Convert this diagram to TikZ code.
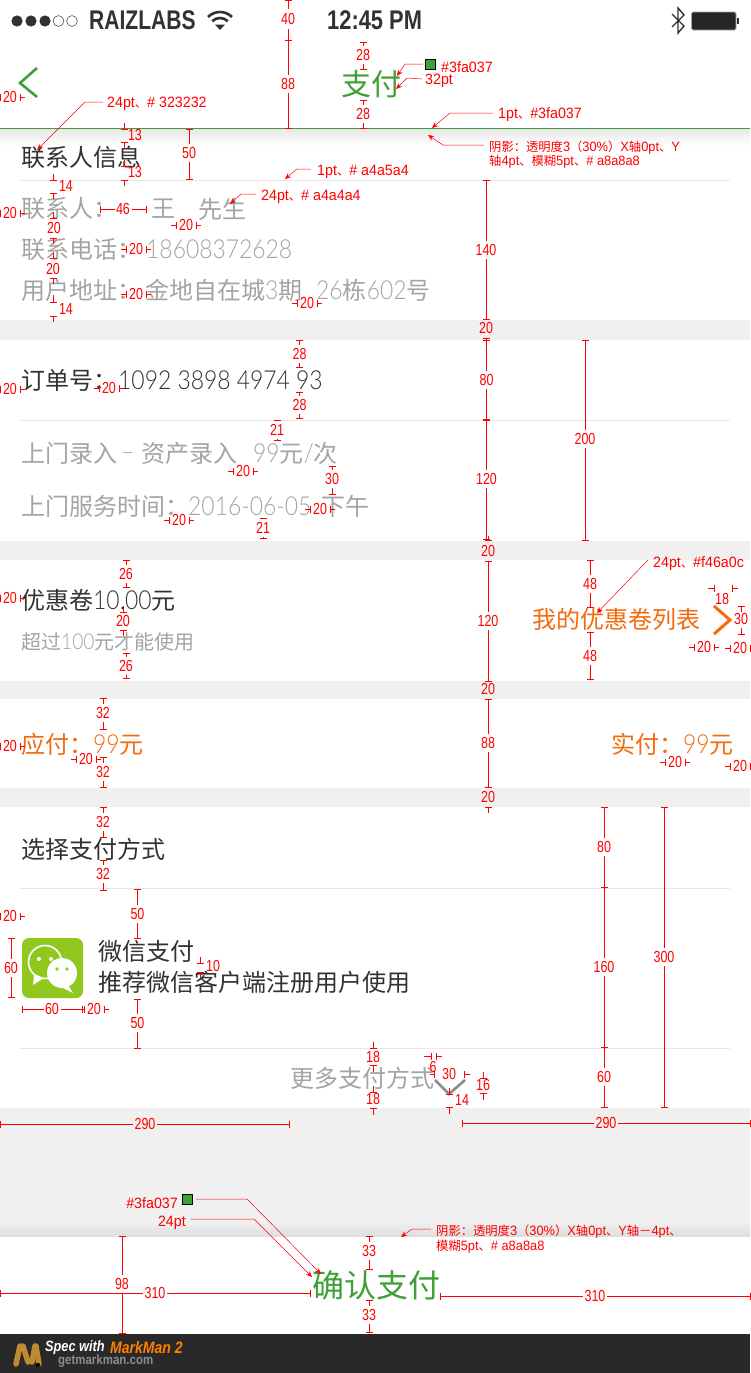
\documentclass[tikz,border=0pt]{standalone}
\usepackage{fontspec}
\usetikzlibrary{arrows.meta}
\setmainfont{Noto Sans CJK SC}
\IfFontExistsTF{Lato Light}{\newfontfamily\dgf{Lato Light}[Scale=1.09,FakeStretch=0.875]}{\newfontfamily\dgf{Carlito}[Scale=1.09]}
\newfontfamily\rdf{Liberation Sans}[FakeStretch=0.78]
\newfontfamily\anf{Liberation Sans}[FakeStretch=0.95]
\newfontfamily\cjf{Noto Sans CJK SC}
\newfontfamily\stf{Liberation Sans Bold}[FakeStretch=0.78]
\newfontfamily\tmf{Liberation Sans Bold}[FakeStretch=0.81]
\newfontfamily\ftf{Liberation Sans}[FakeStretch=0.85]
\definecolor{gr}{HTML}{3FA037}
\definecolor{ink}{HTML}{323232}
\definecolor{mute}{HTML}{A4A4A4}
\definecolor{org}{HTML}{F46A0C}
\definecolor{band}{HTML}{F0F0F0}
\definecolor{sepc}{HTML}{E8E8E8}
\definecolor{wx}{HTML}{90C81E}
\definecolor{rd}{HTML}{FF0000}
\definecolor{logoc}{HTML}{C08A30}
\newcommand\pxf[1]{\fontsize{#1}{#1}\selectfont}
\newcommand\cj[1]{{\cjf\pxf{12.3}#1}}
\newcounter{lbc}
\newcommand\mLb[3]{\stepcounter{lbc}\node[dimlabel] (lb\arabic{lbc}) at (#1,#2) {#3};}
\newcommand\mVs[3]{\draw[dimline] (#1-3.5,#2) -- (#1+3.5,#2) (#1,#2) -- (#1,#3);}
\newcommand\mHs[3]{\draw[dimline] (#1,#2-3.5) -- (#1,#2+3.5) (#1,#2) -- (#3,#2);}
\newcommand\mVd[5]{\mVs{#1}{#2}{#4-9}\mVs{#1}{#3}{#4+9}\mLb{#1}{#4}{#5}}
\newcommand\mHd[3]{\mHs{#1-10}{#2}{#1-15}\mHs{#1+10}{#2}{#1+15}\mLb{#1}{#2}{#3}}
\newcommand\mHl[5]{\mHs{#1}{#4}{#3-12}\mHs{#2}{#4}{#3+12}\mLb{#3}{#4}{#5}}
\newcommand\mHm[5]{\mHs{#1}{#4}{#3-8.5}\mHs{#2}{#4}{#3+8.5}\mLb{#3}{#4}{#5}}
\tikzset{
  x=1pt,y=-1pt,
  dimline/.style={rd,line width=1pt},
  dimlabel/.style={text=rd,inner sep=0pt,font=\rdf\pxf{16}},
  ann/.style={text=rd,inner sep=0pt,anchor=west,yshift=-2pt,font=\anf\pxf{15}},
  annsm/.style={ann,font=\anf\pxf{13.5}},
  leader/.style={rd,line width=0.5pt,-{Stealth[length=6pt,width=5pt]}},
  txt/.style={inner sep=0pt,anchor=west,font=\pxf{24}},
  ttl/.style={txt,text=ink},
  mut/.style={txt,text=mute},
  orn/.style={txt,text=org},
  sep/.style={sepc,line width=0.8pt},
  swatch/.style={draw=black,fill=gr,line width=0.8pt,minimum width=10pt,minimum height=10pt,inner sep=0pt},
  chev/.style={line width=2.6pt,line join=miter},
}
\begin{document}
\begin{tikzpicture}
\useasboundingbox (0,0) rectangle (750,1373);
\fill[white] (0,0) rectangle (750,1373);
% bands
\fill[band] (0,320) rectangle (750,340);
\fill[band] (0,541) rectangle (750,560);
\fill[band] (0,681) rectangle (750,699);
\fill[band] (0,788) rectangle (750,807);
\fill[band] (0,1108) rectangle (750,1236);
\shade[top color=band,bottom color=black!13] (0,1222) rectangle (750,1236);
\shade[top color=black!9,bottom color=white] (0,129) rectangle (750,146);
\fill[black!84] (0,1334) rectangle (750,1373);
% separators
\draw[gr,line width=1pt] (0,128) -- (750,128);
\draw[sep] (20,180) -- (730,180);
\draw[sep] (20,420) -- (730,420);
\draw[sep] (20,888) -- (730,888);
\draw[sep] (20,1048) -- (730,1048);
% status bar
\foreach \cx in {17,31,45}{\fill[ink] (\cx,21) circle (5.6);}
\foreach \cx in {58.5,72}{\draw[ink,line width=0.5pt] (\cx,21) circle (5.4);}
\node[inner sep=0pt,anchor=west,text=ink,font=\stf\pxf{27}] (carrier) at (89,20) {RAIZLABS};
\node[inner sep=0pt,anchor=west,text=ink,font=\tmf\pxf{27}] (clock) at (327,20) {12:45 PM};
\begin{scope}[ink,line width=2.6pt]
\draw (220,29) ++(225:17) arc[start angle=225,end angle=315,radius=17];
\draw (220,29) ++(225:11) arc[start angle=225,end angle=315,radius=11];
\end{scope}
\fill[ink] (220,30) -- (215,24.5) -- (225,24.5) -- cycle;
\draw[ink,line width=1.4pt,line join=miter] (672,14) -- (684,26) -- (678,33) -- (678,8) -- (684,15) -- (672,27);
\draw[black!35,line width=0.8pt,fill=black!85,rounded corners=1.5pt] (691.5,12) rectangle (736,30);
\fill[ink] (737,18) rectangle (739,24);
% nav
\draw[gr,chev] (37,68) -- (20,83) -- (37,97);
\node[inner sep=0pt,text=gr,font=\pxf{30}] (title) at (371,84) {支付};
% section 1
\node[ttl] (t1) at (21,157) {联系人信息};
\node[mut] (t2) at (21,209) {联系人：};
\node[mut] (t3) at (151,209) {王};
\node[mut] (t4) at (198,209) {先生};
\node[mut] (t5) at (21,249) {联系电话：};
\node[mut] (t6) at (146,249) {\dgf 18608372628};
\node[mut] (t7) at (21,290) {用户地址：};
\node[mut] (t8) at (145,290) {金地自在城{\dgf 3}期};
\node[mut] (t9) at (316,290) {{\dgf 26}栋{\dgf 602}号};
% section 2
\node[ttl] (t10) at (21,380) {订单号：};
\node[ttl] (t11) at (118,380) {\dgf 1092 3898 4974 93};
\node[mut] (t12) at (21,453) {上门录入};
\node[mut] (t13) at (121,456) {\dgf –};
\node[mut] (t14) at (141,453) {资产录入};
\node[mut] (t15) at (253,453) {{\dgf 99}元{\dgf /}次};
\node[mut] (t16) at (21,506) {上门服务时间：};
\node[mut] (t17) at (188,506) {\dgf 2016-06-05};
\node[mut] (t18) at (321,506) {下午};
% section 3
\node[ttl] (t19) at (21,600) {优惠卷{\dgf 10.00}元};
\node[mut,font=\pxf{20}] (t20) at (21,642) {超过{\dgf 100}元才能使用};
\node[orn] (t21) at (532,619) {我的优惠卷列表};
\draw[org,chev,line width=3pt] (714,606) -- (730,620) -- (714,634);
% section 4
\node[orn] (t22) at (21,744) {应付：{\dgf 99}元};
\node[orn] (t23) at (611,744) {实付：{\dgf 99}元};
% section 5
\node[ttl] (t24) at (21,849) {选择支付方式};
\fill[wx,rounded corners=7pt] (22,938) rectangle (83,998);
\draw[white,fill=wx,line width=1.6pt] (45,962) circle (16.5);
\fill[white] (34,974) -- (33,985) -- (44,978) -- cycle;
\fill[white] (39,959) circle (2) (51,959) circle (2);
\fill[white] (62,973) circle (15);
\fill[white] (68,985) -- (73,993) -- (59,986) -- cycle;
\fill[wx] (57,969) circle (1.8) (67,969) circle (1.8);
\node[ttl] (t25) at (98,951) {微信支付};
\node[ttl] (t26) at (98,982) {推荐微信客户端注册用户使用};
\node[mut] (t27) at (290,1078) {更多支付方式};
\draw[black!45,chev] (435,1080) -- (449,1094) -- (465,1080);
\node[inner sep=0pt,anchor=west,text=gr,font=\pxf{32}] (t28) at (312,1285) {确认支付};
% footer
\begin{scope}[line width=5.5pt,line cap=round,color=logoc]
\draw (16,1364) -- (20,1346);
\draw (23,1346) -- (28,1362);
\draw (32,1362) -- (35,1346);
\draw (36,1346) -- (39,1364);
\end{scope}
\fill[black] (38,1365) circle (2.2);
\node[inner sep=0pt,anchor=west,text=white,font=\ftf\bfseries\itshape\pxf{15}] (f1) at (45,1348) {Spec with};
\node[inner sep=0pt,anchor=west,text=orange,font=\ftf\bfseries\itshape\pxf{16.5}] (f2) at (110,1348) {MarkMan 2};
\node[inner sep=0pt,anchor=west,text=black!45,font=\ftf\bfseries\pxf{13.5}] (f3) at (58,1361) {getmarkman.com};
% dimensions: top
\mVs{288}{0}{9}\mVs{288}{40}{29}\mLb{288}{19}{40}
\mVd{288}{40}{128}{84}{88}
\mVd{363}{42}{69}{55}{28}
\mVd{363}{100}{128}{114}{28}
\mHd{10}{97}{20}
\mVs{124}{129}{123}\mLb{135}{135}{13}\mVs{124}{142}{149}
\mVs{124}{166}{160}\mLb{135}{172}{13}\mVs{124}{180}{186}
\mVd{189}{129}{179}{153}{50}
\mVs{53}{180}{174}\mLb{66}{186}{14}\mVs{53}{193}{199}
\mVs{53}{218}{212}\mLb{54}{228}{20}\mVs{53}{238}{244}
\mVs{53}{258}{252}\mLb{53}{269}{20}\mVs{53}{278}{284}
\mVs{53}{302}{295}\mLb{66}{309}{14}\mVs{53}{316}{322}
\mHd{10}{213}{20}
\mHm{100}{146}{123}{209}{46}
\mHd{186}{225}{20}
\mHd{136}{249}{20}
\mHd{136}{294}{20}
\mHd{307}{303}{20}
\mVd{486}{180}{319}{250}{140}
\mLb{486}{328}{20}\mVs{486}{338}{342}
% section 2
\mVd{486.5}{340}{419}{380}{80}
\mVd{486.5}{420}{539}{479}{120}
\mVd{585}{340}{540}{439}{200}
\mHd{10}{389}{20}
\mHd{109}{388}{20}
\mVd{299.5}{340}{367}{354}{28}
\mVd{299.5}{392}{418}{405}{28}
\mVd{277}{420}{440}{430}{21}
\mVd{332}{466}{494}{479}{30}
\mVd{263}{518}{538}{528}{21}
\mHd{243}{471}{20}
\mHd{179}{520}{20}
\mHd{320}{509}{20}
\mLb{488}{551}{20}\mVs{488}{540}{536}
% section 3
\mHd{10}{598}{20}
\mVd{126}{560}{587}{574}{26}
\mVs{123}{612}{606}\mLb{123}{621}{20}\mVs{123}{630}{636}
\mVd{126}{653}{678}{666}{26}
\mVd{488}{561}{681}{621}{120}
\mVd{590}{560}{607}{584}{48}
\mVd{590}{632}{679}{656}{48}
\mVs{741}{606}{612}\mLb{741}{619}{30}\mVs{741}{634}{628}
\mHs{714}{588}{708}\mHs{732}{588}{738}\mLb{722}{599}{18}
\mHd{704}{647}{20}
\mHd{740}{648}{20}
\mLb{488}{689}{20}
% section 4
\mVd{103}{698}{729}{713}{32}
\mVd{103}{757}{787}{772}{32}
\mVd{488}{699}{787}{743}{88}
\mHd{10}{746}{20}
\mHd{86}{759}{20}
\mHd{675}{762}{20}
\mHd{740}{766}{20}
\mLb{488}{797}{20}\mVs{488}{807}{813}
% section 5
\mVd{103}{807}{837}{822}{32}
\mVd{103}{860}{890}{874}{32}
\mVd{604}{807}{887}{847}{80}
\mVd{604}{887}{1047}{967}{160}
\mVd{604}{1047}{1107}{1077}{60}
\mVd{664}{807}{1107}{957}{300}
\mVd{137.5}{889}{938}{914}{50}
\mVd{137.5}{999}{1048}{1023}{50}
\mVd{11}{938}{997}{968}{60}
\mHd{10}{916}{20}
\mHm{22}{82}{52}{1009}{60}
\mHs{84}{1009}{82}\mHs{104}{1009}{109}\mLb{94}{1009}{20}
\mVs{200}{963}{957}\mLb{213}{966}{10}\mVs{200}{972}{978}
\mVs{373}{1048}{1042}\mLb{373}{1057}{18}\mVs{373}{1065}{1072}
\mVs{373}{1092}{1086}\mLb{373}{1099}{18}\mVs{373}{1108}{1115}
\mHs{431}{1056}{424}\mHs{436}{1056}{442}\mLb{433}{1067}{6}
\mHs{434}{1074}{430}\mHs{464}{1074}{470}\mLb{449}{1074}{30}
\mVs{449}{1094}{1088}\mLb{462}{1100}{14}\mVs{449}{1107}{1114}
\mVs{483}{1078}{1072}\mLb{483}{1085}{16}\mVs{483}{1093}{1100}
\mHl{0}{289}{145}{1124}{290}
\mHl{462}{750}{606}{1123}{290}
\mVd{122}{1236}{1333}{1284}{98}
\mHl{0}{310}{155}{1293}{310}
\mHl{440}{750}{595}{1296}{310}
\mVd{369}{1236}{1269}{1251}{33}
\mVd{369}{1300}{1332}{1315}{33}
% annotations
\node[swatch] (s1) at (430.5,64) {};
\node[ann] (a1) at (441,65) {\#3fa037};
\node[ann] (a2) at (425,79) {32pt};
\node[ann] (a3) at (107,102) {24pt\cj{、}\# 323232};
\node[ann] (a4) at (498,113) {1pt\cj{、}\#3fa037};
\node[annsm] (a5) at (489,146) {\cj{阴影：透明度}3\cj{（}30\%\cj{）}X\cj{轴}0pt\cj{、}Y};
\node[annsm] (a6) at (489,160) {\cj{轴}4pt\cj{、模糊}5pt\cj{、}\# a8a8a8};
\node[ann] (a7) at (317,170) {1pt\cj{、}\# a4a5a4};
\node[ann] (a8) at (261,195) {24pt\cj{、}\# a4a4a4};
\node[ann] (a9) at (653,562) {24pt\cj{、}\#f46a0c};
\node[swatch] (s2) at (187.5,1199) {};
\node[ann,anchor=east] (a10) at (178,1201) {\#3fa037};
\node[ann,anchor=east] (a11) at (186,1221) {24pt};
\node[annsm] (a12) at (436,1230) {\cj{阴影：透明度}3\cj{（}30\%\cj{）}X\cj{轴}0pt\cj{、}Y\cj{轴－}4pt\cj{、}};
\node[annsm] (a13) at (436,1245) {\cj{模糊}5pt\cj{、}\# a8a8a8};
\coordinate (p1) at (397,76);
\coordinate (p2) at (396,89);
\coordinate (p3) at (37,150);
\coordinate (p4) at (432,128);
\coordinate (p5) at (428,135);
\coordinate (p7) at (285,179);
\coordinate (p8) at (230,204);
\coordinate (p9) at (597,613);
\coordinate (p10) at (321,1274);
\coordinate (p11) at (312,1277);
\coordinate (p12) at (401,1237);
\draw[leader] ([xshift=-2pt]s1.west) -- (405,64) -- (p1);
\draw[leader] ([xshift=-3pt,yshift=2pt]a2.west) -- (407,78) -- (p2);
\draw[leader] ([xshift=-4pt,yshift=2pt]a3.west) -- (85,102) -- (p3);
\draw[leader] ([xshift=-5pt,yshift=2pt]a4.west) -- (450,113) -- (p4);
\draw[leader] ([xshift=-5pt,yshift=3pt]a5.west) -- (443,145) -- (p5);
\draw[leader] ([xshift=-6pt,yshift=3pt]a7.west) -- (297,169) -- (p7);
\draw[leader] ([xshift=-5pt,yshift=3pt]a8.west) -- (241,194) -- (p8);
\draw[leader] ([xshift=-5pt,yshift=4pt]a9.west) -- (p9);
\draw[leader] ([xshift=3pt]s2.east) -- (247,1199) -- (p10);
\draw[leader] ([xshift=5pt,yshift=4pt]a11.east) -- (254,1219) -- (p11);
\draw[leader] ([xshift=-5pt,yshift=3pt]a12.west) -- (412,1229) -- (p12);
\end{tikzpicture}
\end{document}
